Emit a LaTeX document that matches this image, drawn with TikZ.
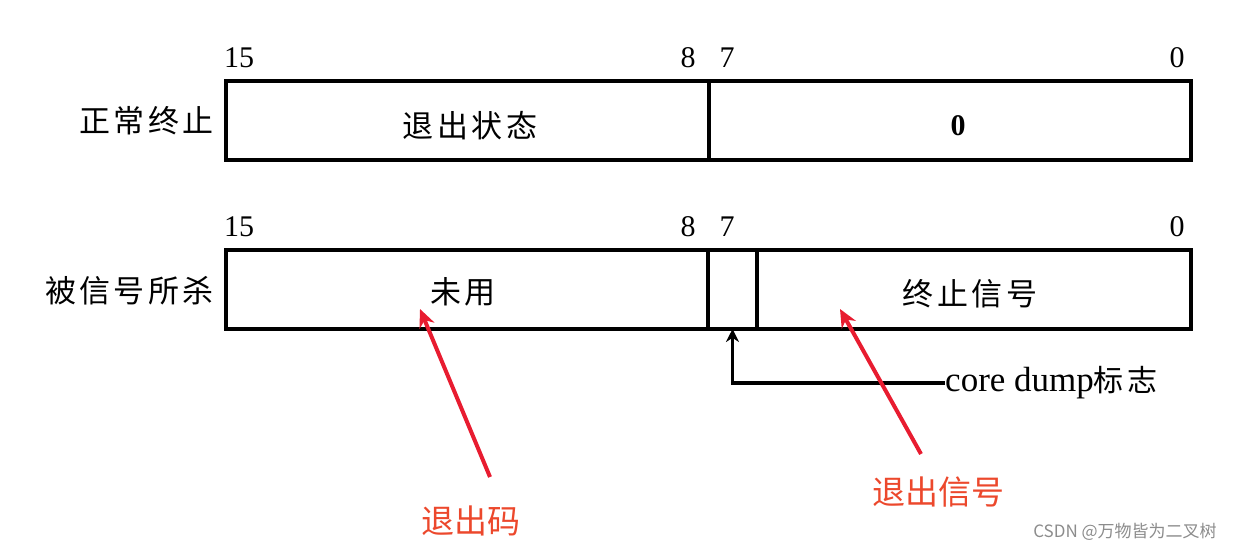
\documentclass[tikz,border=0pt]{standalone}
\usepackage{fontspec}
\setmainfont{Liberation Serif}
\newfontfamily\cjk{Noto Sans CJK SC}
\newfontfamily\cjksp[LetterSpace=11]{Noto Sans CJK SC}
\usetikzlibrary{arrows.meta}
\definecolor{redarrow}{RGB}{232,28,48}
\definecolor{redtext}{RGB}{236,72,44}
\tikzset{
  cell/.style={draw, line width=3.5pt, anchor=north west, inner sep=0pt, outer sep=0pt},
  bitnum/.style={font=\fontsize{30}{30}\selectfont, inner sep=0pt},
  rowlabel/.style={font=\cjksp\fontsize{31}{32}\selectfont, anchor=east, inner sep=0pt},
  celltext/.style={font=\cjksp\fontsize{31}{32}\selectfont},
  redlabel/.style={font=\cjk\fontsize{33}{34}\selectfont, text=redtext, inner sep=0pt},
  redarr/.style={draw=redarrow, line width=4pt, -{Stealth[length=18pt,width=16pt]}},
  blackarr/.style={draw, line width=3.5pt, -{Stealth[length=13pt,width=13pt]}},
}
\begin{document}
\begin{tikzpicture}[x=1pt,y=-1pt]
\useasboundingbox (0,0) rectangle (1241,553);
% row 1
\node[cell, minimum width=483pt, minimum height=79pt] (c1a) at (226,81) {};
\node[cell, minimum width=482pt, minimum height=79pt] (c1b) at (709,81) {};
\node[celltext] (t1a) at (470,126) {退出状态};
\node[font=\bfseries\fontsize{30}{30}\selectfont] (t1b) at (958,126) {0};
\node[bitnum] (n115) at (239,58) {15};
\node[bitnum] (n18) at (688,58) {8};
\node[bitnum] (n17) at (727,58) {7};
\node[bitnum] (n10) at (1177,58) {0};
\node[rowlabel] (r1) at (214,121) {正常终止};
% row 2
\node[cell, minimum width=482pt, minimum height=79pt] (c2a) at (226,250) {};
\node[cell, minimum width=49pt, minimum height=79pt] (c2b) at (708,250) {};
\node[cell, minimum width=434pt, minimum height=79pt] (c2c) at (757,250) {};
\node[celltext] (t2a) at (463,292) {未用};
\node[celltext] (t2c) at (970,294) {终止信号};
\node[bitnum] (n215) at (239,227) {15};
\node[bitnum] (n28) at (688,227) {8};
\node[bitnum] (n27) at (727,227) {7};
\node[bitnum] (n20) at (1177,227) {0};
\node[rowlabel] (r2) at (214,291) {被信号所杀};
% core dump
\node[anchor=west, inner sep=0pt, font=\fontsize{35}{36}\selectfont] (cd) at (945,383) {core dump{\cjksp\fontsize{30}{30}\selectfont 标志}};
\draw[blackarr] (cd.west) -| (c2b.south);
% red annotations
\node[redlabel] (l1) at (471,521) {退出码};
\node[redlabel] (l2) at (938,492) {退出信号};
\coordinate (s1) at (490,477);
\coordinate (e1) at (420,309);
\coordinate (s2) at (921,454);
\coordinate (e2) at (840,309);
\draw[redarr] (s1) -- (e1);
\draw[redarr] (s2) -- (e2);
% watermark
\node[font=\cjk\fontsize{17}{18}\selectfont, text=black!45, inner sep=0pt] (wm) at (1125,532) {CSDN @万物皆为二叉树};
\end{tikzpicture}
\end{document}
